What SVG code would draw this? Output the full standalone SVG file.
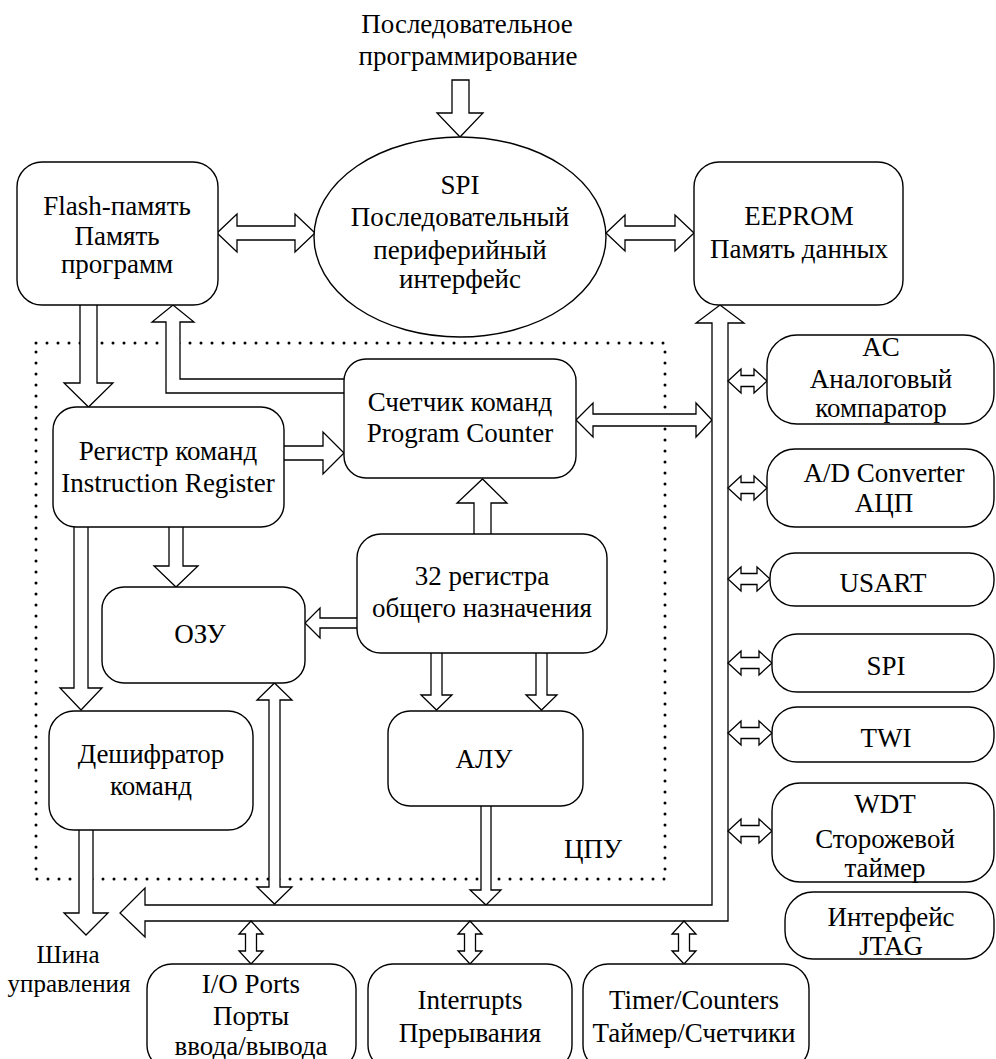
<svg xmlns="http://www.w3.org/2000/svg" width="996" height="1059" viewBox="0 0 996 1059">
<style>
.box{fill:#fff;stroke:#000;stroke-width:1.4}
.arr{fill:#fff;stroke:#000;stroke-width:1.3;stroke-linejoin:miter}
.cpu{fill:none;stroke:#000;stroke-width:3;stroke-linecap:round;stroke-dasharray:0 11}
text{font-family:'Liberation Serif','Times New Roman','DejaVu Serif',serif;font-size:27px;text-anchor:middle;fill:#000}
.sm{font-size:25px}
</style>
<rect width="996" height="1059" fill="#fff"/>
<g font-family="Liberation Serif, Times New Roman, serif">
<g id="cpu">
<rect class="cpu" x="36" y="343" width="629" height="536"/>
<text x="593" y="858">ЦПУ</text>
</g>
<g id="labels">
<text x="467" y="33">Последовательное</text>
<text x="468" y="65">программирование</text>
<text class="sm" x="68" y="963">Шина</text>
<text class="sm" x="69" y="992">управления</text>
</g>
<g id="connectors">
<polygon class="arr" points="452,80 469,80 469,113 483,113 460,137 437,113 452,113"/>
<polygon class="arr" points="217,233 237,214 237,226 295,226 295,214 315,233 295,252 295,240 237,240 237,252"/>
<polygon class="arr" points="606,233 625,215 625,226 675,226 675,215 694,233 675,251 675,240 625,240 625,251"/>
<path class="arr" d="M80,305 V383 H64 L88.5,407 L113,383 H97 V305"/>
<path class="arr" d="M344,379 H180 V322 H194 L173,305 L152,322 H166 V393 H344"/>
<path class="arr" d="M284,446 H323 V432 L344,453 L323,474 V460 H284"/>
<path class="arr" d="M169,527 V566 H154 L176,587 L198,566 H183 V527"/>
<path class="arr" d="M74,527 V688 H60 L81,710 L102,688 H88 V527"/>
<path class="arr" d="M79,830 V913 H64 L86,935 L108,913 H93 V830"/>
<polygon class="arr" points="274.5,683 292,700 280,700 280,887 292,887 274.5,904 257,887 269,887 269,700 257,700"/>
<path class="arr" d="M474,534 V503 H457 L482.5,479 L507,503 H491 V534"/>
<path class="arr" d="M357,618 H320 V608 L305,623 L320,638 V628 H357"/>
<path class="arr" d="M431,653 V695 H421 L436.5,710 L452,695 H442 V653"/>
<path class="arr" d="M536,653 V695 H526 L541.5,710 L557,695 H547 V653"/>
<path class="arr" d="M481,806 V890 H470 L486,905 L501,890 H491 V806"/>
<polygon class="arr" points="576,420 593,403 593,414 696,414 696,403 712,420 696,437 696,426 593,426 593,437"/>
<polygon class="arr" points="720,305 744,323 728,323 728,921 145,921 145,937 120,913 145,888 145,905 712,905 712,323 696,323"/>
<polygon class="arr" points="251,921 263,934 256.5,934 256.5,951 263,951 251,964 239,951 245.5,951 245.5,934 239,934"/>
<polygon class="arr" points="470,921 482,934 475.5,934 475.5,951 482,951 470,964 458,951 464.5,951 464.5,934 458,934"/>
<polygon class="arr" points="684,921 696,934 689.5,934 689.5,951 696,951 684,964 672,951 678.5,951 678.5,934 672,934"/>
<polygon class="arr" points="728,381 741,369 741,375.5 754,375.5 754,369 767,381 754,393 754,386.5 741,386.5 741,393"/>
<polygon class="arr" points="728,488 741,476 741,482.5 754,482.5 754,476 767,488 754,500 754,493.5 741,493.5 741,500"/>
<polygon class="arr" points="728,579 741,567 741,573.5 757,573.5 757,567 770,579 757,591 757,584.5 741,584.5 741,591"/>
<polygon class="arr" points="728,663 741,651 741,657.5 759,657.5 759,651 772,663 759,675 759,668.5 741,668.5 741,675"/>
<polygon class="arr" points="728,733 741,721 741,727.5 759,727.5 759,721 772,733 759,745 759,738.5 741,738.5 741,745"/>
<polygon class="arr" points="728,831 741,819 741,825.5 759,825.5 759,819 772,831 759,843 759,836.5 741,836.5 741,843"/>
</g>
<g id="flash">
<rect class="box" x="17" y="162" width="201" height="143" rx="25"/>
<text x="117" y="215">Flash-память</text>
<text x="117" y="245">Память</text>
<text x="117" y="273">программ</text>
</g>
<g id="spi">
<ellipse class="box" cx="460" cy="237" rx="146" ry="100"/>
<text x="460" y="194">SPI</text>
<text x="460" y="226">Последовательный</text>
<text x="460" y="259">периферийный</text>
<text x="460" y="288">интерфейс</text>
</g>
<g id="eeprom">
<rect class="box" x="694" y="162" width="209" height="143" rx="25"/>
<text x="799" y="225">EEPROM</text>
<text x="799" y="258">Память данных</text>
</g>
<g id="pc">
<rect class="box" x="344" y="359" width="232" height="119" rx="22"/>
<text x="460" y="411">Счетчик команд</text>
<text x="460" y="442">Program Counter</text>
</g>
<g id="ir">
<rect class="box" x="53" y="407" width="231" height="120" rx="23"/>
<text x="168" y="460">Регистр команд</text>
<text x="168" y="492">Instruction Register</text>
</g>
<g id="ram">
<rect class="box" x="102" y="587" width="203" height="96" rx="22"/>
<text x="200" y="643">ОЗУ</text>
</g>
<g id="gpr">
<rect class="box" x="357" y="534" width="250" height="119" rx="24"/>
<text x="482" y="585">32 регистра</text>
<text x="482" y="617">общего назначения</text>
</g>
<g id="decoder">
<rect class="box" x="49" y="711" width="204" height="119" rx="25"/>
<text x="151" y="763">Дешифратор</text>
<text x="151" y="795">команд</text>
</g>
<g id="alu">
<rect class="box" x="388" y="711" width="195" height="95" rx="22"/>
<text x="484" y="768">АЛУ</text>
</g>
<g id="ac">
<rect class="box" x="767" y="335" width="227" height="89" rx="30"/>
<text x="881" y="356">AC</text>
<text x="881" y="388">Аналоговый</text>
<text x="881" y="417">компаратор</text>
</g>
<g id="adc">
<rect class="box" x="767" y="449" width="227" height="78" rx="28"/>
<text x="884" y="482">A/D Converter</text>
<text x="884" y="512">АЦП</text>
</g>
<g id="usart">
<rect class="box" x="770" y="553" width="224" height="53" rx="25"/>
<text x="883" y="592">USART</text>
</g>
<g id="spi2">
<rect class="box" x="772" y="634" width="222" height="58" rx="25"/>
<text x="886" y="675">SPI</text>
</g>
<g id="twi">
<rect class="box" x="772" y="707" width="222" height="55" rx="25"/>
<text x="886" y="747">TWI</text>
</g>
<g id="wdt">
<rect class="box" x="772" y="783" width="222" height="99" rx="28"/>
<text x="885" y="813">WDT</text>
<text x="885" y="848">Сторожевой</text>
<text x="885" y="877">таймер</text>
</g>
<g id="jtag">
<rect class="box" x="785" y="892" width="209" height="67" rx="28"/>
<text x="891" y="926">Интерфейс</text>
<text x="891" y="955">JTAG</text>
</g>
<g id="io">
<rect class="box" x="147" y="964" width="209" height="106" rx="25"/>
<text x="251" y="993">I/O Ports</text>
<text x="251" y="1025">Порты</text>
<text x="251" y="1055">ввода/вывода</text>
</g>
<g id="interrupts">
<rect class="box" x="368" y="964" width="204" height="106" rx="25"/>
<text x="470" y="1009">Interrupts</text>
<text x="470" y="1042">Прерывания</text>
</g>
<g id="timers">
<rect class="box" x="583" y="964" width="226" height="106" rx="25"/>
<text x="694" y="1009">Timer/Counters</text>
<text x="694" y="1042">Таймер/Счетчики</text>
</g>
</g>
</svg>
